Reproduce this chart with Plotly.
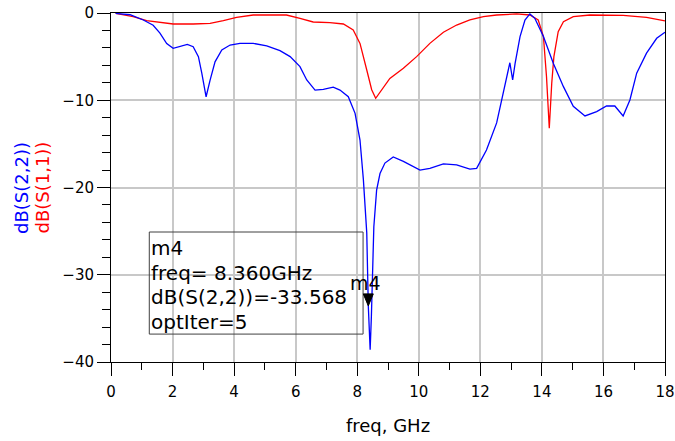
import plotly.graph_objects as go

# S-parameter sweep (frequency in GHz, magnitude in dB)
freq_s22 = [0.15, 0.62, 1.05, 1.37, 1.59, 1.81, 2.02, 2.24, 2.48, 2.67, 2.84, 2.95, 3.09,
            3.22, 3.38, 3.6, 3.87, 4.19, 4.62, 5.06, 5.49, 5.82, 6.14, 6.36, 6.63, 6.9,
            7.22, 7.44, 7.71, 7.93, 8.09, 8.2, 8.31, 8.36, 8.42, 8.46, 8.5, 8.54, 8.63,
            8.74, 8.9, 9.17, 9.5, 10.04, 10.36, 10.8, 11.23, 11.66, 11.88, 12.2, 12.53,
            12.69, 12.86, 12.96, 13.05, 13.13, 13.29, 13.45, 13.61, 13.77, 14.05, 14.37,
            14.7, 15.02, 15.4, 15.78, 16.1, 16.37, 16.64, 16.86, 17.08, 17.4, 17.73, 18.0]
db_s22 = [-0.05, -0.2, -0.8, -1.4, -2.3, -3.5, -4.05, -3.86, -3.6, -3.86, -5.0, -6.9, -9.6,
          -7.7, -5.6, -4.24, -3.67, -3.48, -3.48, -3.78, -4.32, -5.0, -6.15, -7.68, -8.83, -8.75,
          -8.5, -8.83, -9.59, -11.5, -14.56, -19.1, -25.2, -33.568, -38.6, -34.8, -29.1, -24.5, -20.3,
          -18.4, -17.2, -16.5, -17.0, -18.0, -17.8, -17.3, -17.4, -17.9, -17.8, -15.7, -12.6,
          -9.97, -7.3, -5.7, -7.68, -5.77, -2.7, -0.8, -0.11, -0.61, -2.7, -5.77,
          -8.44, -10.7, -11.8, -11.3, -10.66, -10.66, -11.8, -9.97, -6.9, -4.6, -2.9, -2.2]

freq_s11 = [0.15, 0.72, 1.16, 1.59, 2.02, 2.67, 3.22, 3.65, 4.08, 4.62, 5.7, 6.14, 6.57,
            7.11, 7.55, 7.87, 8.09, 8.31, 8.47, 8.6, 8.8, 9.06, 9.5, 9.93, 10.36, 10.8,
            11.23, 11.66, 12.1, 12.53, 13.18, 13.61, 13.88, 14.05, 14.15, 14.24, 14.32,
            14.39, 14.53, 14.7, 15.02, 15.56, 16.64, 17.4, 18.0]
db_s11 = [-0.05, -0.42, -0.88, -1.1, -1.26, -1.26, -1.19, -0.88, -0.5, -0.23, -0.23, -0.61, -1.03,
          -1.1, -1.26, -1.95, -3.48, -6.53, -8.8, -9.78, -8.8, -7.5, -6.34, -5.0, -3.48, -2.2,
          -1.38, -0.8, -0.42, -0.23, -0.11, -0.23, -0.8, -2.7, -7.3, -13.2, -8.06,
          -5.0, -2.14, -1.0, -0.42, -0.23, -0.27, -0.5, -0.9]

x_ticks = [0, 2, 4, 6, 8, 10, 12, 14, 16, 18]
y_ticks = [-40, -30, -20, -10, 0]

# marker m4
m4_name = "m4"
m4_freq = 8.360
m4_db = -33.568
m4_iter = 5

FONT = "DejaVu Sans"

fig = go.Figure()
fig.add_trace(go.Scatter(x=freq_s11, y=db_s11, mode="lines",
                         line=dict(color="#ff0000", width=1.3), showlegend=False))
fig.add_trace(go.Scatter(x=freq_s22, y=db_s22, mode="lines",
                         line=dict(color="#0000ff", width=1.3), showlegend=False))

axis_common = dict(
    showline=True, linecolor="black", linewidth=1, mirror=True,
    showgrid=True, gridcolor="#c8c8c8", gridwidth=1.5,
    ticks="outside", tickcolor="black", tickwidth=1,
    tickfont=dict(family=FONT, size=15, color="black"),
    zeroline=False, automargin=False,
)

fig.update_xaxes(range=[0, 18], tickvals=x_ticks, ticklen=13,
                 minor=dict(dtick=1, ticks="outside", ticklen=7, tickcolor="black",
                            showgrid=False),
                 ticklabelstandoff=3,
                 title=dict(text="freq, GHz", font=dict(family=FONT, size=18, color="black"),
                            standoff=19),
                 **axis_common)
fig.update_yaxes(range=[-40, 0], tickvals=y_ticks, ticklen=13,
                 minor=dict(dtick=2, ticks="outside", ticklen=8, tickcolor="black",
                            showgrid=False),
                 ticklabelstandoff=0,
                 **axis_common)

# stacked y-axis titles
for text, color, xp in [("dB(S(2,2))", "#0000ff", -0.1616), ("dB(S(1,1))", "#ff0000", -0.1245)]:
    fig.add_annotation(text=text, xref="paper", yref="paper", x=xp, y=0.5,
                       textangle=-90, showarrow=False, xanchor="center", yanchor="middle",
                       font=dict(family=FONT, size=18, color=color))

# marker readout box
fig.add_shape(type="rect", xref="x", yref="y", x0=1.244, x1=8.19, y0=-25.1, y1=-36.8,
              line=dict(color="#404040", width=1), fillcolor="rgba(0,0,0,0)")
readout_lines = [m4_name, f"freq= {m4_freq:.3f}GHz",
                 f"dB(S(2,2))={m4_db:.3f}", f"optIter={m4_iter}"]
for i, line in enumerate(readout_lines):
    fig.add_annotation(text=line, xref="x", yref="y", x=1.27, y=-25.1,
                       xanchor="left", yanchor="top", align="left", showarrow=False,
                       yshift=-3 - 24.5 * i, borderpad=0,
                       font=dict(family=FONT, size=20, color="black"))

# marker triangle with its tip on the data point
fig.add_shape(type="path", xref="x", yref="y", xsizemode="pixel", ysizemode="pixel",
              xanchor=m4_freq, yanchor=m4_db, path="M -5 12 L 5 12 L 0 0 Z",
              fillcolor="black", line=dict(color="black", width=1))
fig.add_annotation(text=m4_name, xref="x", yref="y", x=m4_freq, y=m4_db,
                   xanchor="center", yanchor="bottom", xshift=-3, yshift=10,
                   showarrow=False, font=dict(family=FONT, size=19, color="black"))

fig.update_layout(width=675, height=441, margin=dict(l=111, r=10, t=13, b=79),
                  plot_bgcolor="white", paper_bgcolor="white")

fig.write_html("out.html")
